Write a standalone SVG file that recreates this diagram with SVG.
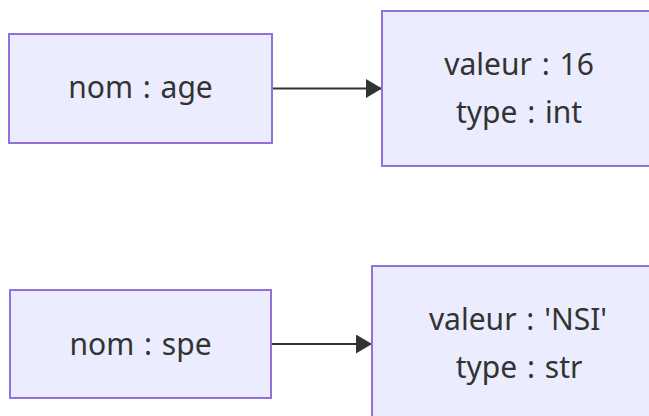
<svg xmlns="http://www.w3.org/2000/svg" width="649" height="416" viewBox="0 0 649 416">
<style>
.node rect{fill:#ECECFF;stroke:#9370DB;stroke-width:2}
.node text{font-family:"Noto Sans","DejaVu Sans",sans-serif;font-size:30px;word-spacing:2px;fill:#333;text-anchor:middle}
.edge{stroke:#333;stroke-width:2;fill:none}
</style>
<defs>
<marker id="arrow" markerWidth="16" markerHeight="19" refX="16" refY="9.5" markerUnits="userSpaceOnUse" orient="auto">
<path d="M0,0 L16,9.5 L0,19 Z" fill="#333"/>
</marker>
</defs>
<rect width="649" height="416" fill="#fff"/>
<g id="connectors">
<path class="edge" d="M272,88.5 L382,88.5" marker-end="url(#arrow)"/>
<path class="edge" d="M271,344 L372,344" marker-end="url(#arrow)"/>
</g>
<g id="n1" class="node">
<rect x="9" y="34" width="263" height="109"/>
<text x="140.5" y="98">nom : age</text>
</g>
<g id="n2" class="node">
<rect x="382" y="11" width="280" height="155"/>
<text x="519" y="75">valeur : 16</text>
<text x="519" y="123">type : int</text>
</g>
<g id="n3" class="node">
<rect x="10" y="290" width="261" height="108"/>
<text x="140.5" y="355">nom : spe</text>
</g>
<g id="n4" class="node">
<rect x="372" y="266" width="292" height="170"/>
<text x="518" y="330">valeur : 'NSI'</text>
<text x="519" y="378">type : str</text>
</g>
</svg>
